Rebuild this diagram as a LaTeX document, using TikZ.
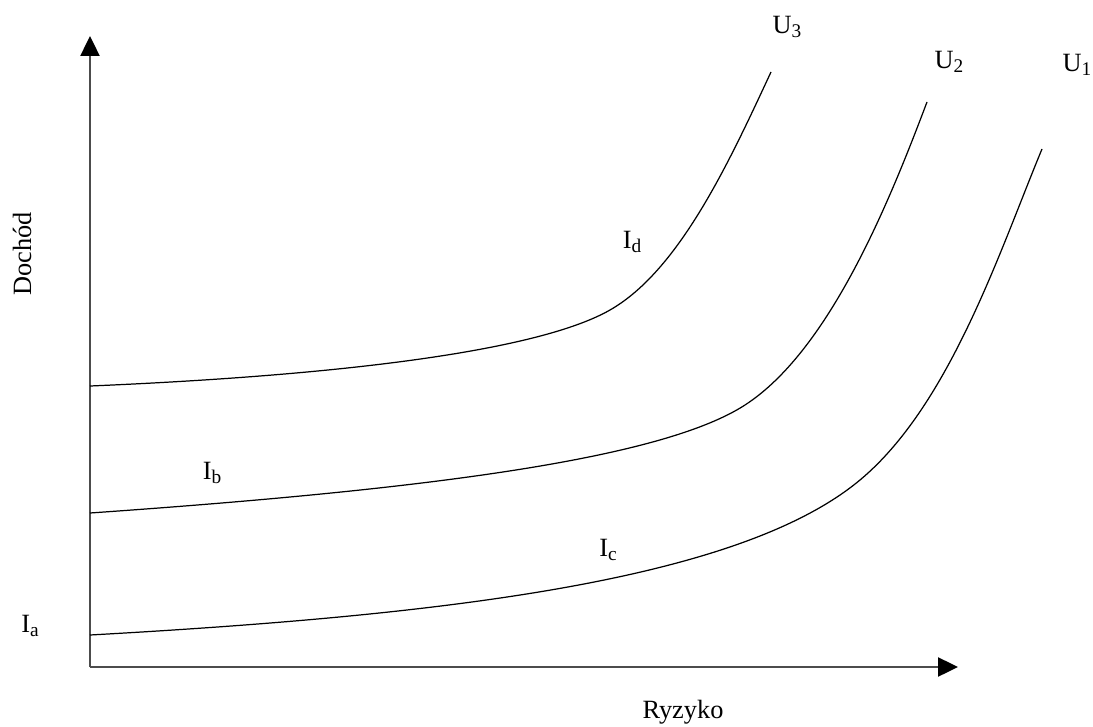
\documentclass[tikz,border=0pt]{standalone}
\usepackage{fontspec}
\setmainfont{Liberation Serif}
\usetikzlibrary{arrows.meta}
\newcommand{\lowsub}[1]{\raisebox{-0.15em}{\fontsize{11}{12}\selectfont #1}}
\tikzset{
  axisline/.style={line width=1.4pt, draw=black!70, -{Triangle[length=0.4cm,width=0.38cm,color=black]}},
  curve/.style={line width=0.7pt, black},
  lbl/.style={font=\fontsize{15}{17}\selectfont, inner sep=0pt}
}
\begin{document}
\begin{tikzpicture}[x=0.02cm,y=-0.02cm]
\useasboundingbox (0,0) rectangle (1093,727);
\coordinate (O) at (90,667);
\coordinate (ytop) at (90,36);
\coordinate (xend) at (958,667);
\draw[axisline] (O) -- (ytop);
\draw[axisline] (O) -- (xend);
% U3
\coordinate (u3s) at (90,386);
\coordinate (u3k) at (610,310);
\coordinate (u3e) at (771,72);
\draw[curve] (u3s) .. controls (350,375) and (540,350) .. (u3k)
                   .. controls (680,270) and (730,160) .. (u3e);
% U2
\coordinate (u2s) at (90,513);
\coordinate (u2k) at (745,405);
\coordinate (u2e) at (927,102);
\draw[curve] (u2s) .. controls (420,490) and (660,460) .. (u2k)
                   .. controls (830,350) and (890,200) .. (u2e);
% U1
\coordinate (u1s) at (90,635);
\coordinate (u1k) at (860,480);
\coordinate (u1e) at (1042,149);
\draw[curve] (u1s) .. controls (450,615) and (740,580) .. (u1k)
                   .. controls (950,405) and (1000,250) .. (u1e);
\node[lbl] (u3) at (787,27) {U\lowsub{3}};
\node[lbl] (u2) at (949,62) {U\lowsub{2}};
\node[lbl] (u1) at (1077,65) {U\lowsub{1}};
\node[lbl] (id) at (632,242) {I\lowsub{d}};
\node[lbl] (ib) at (212,473) {I\lowsub{b}};
\node[lbl] (ic) at (608,550) {I\lowsub{c}};
\node[lbl] (ia) at (30,626) {I\lowsub{a}};
\node[lbl] (ry) at (683,712) {Ryzyko};
\node[lbl, rotate=90] (dc) at (22,254) {Dochód};
\end{tikzpicture}
\end{document}
